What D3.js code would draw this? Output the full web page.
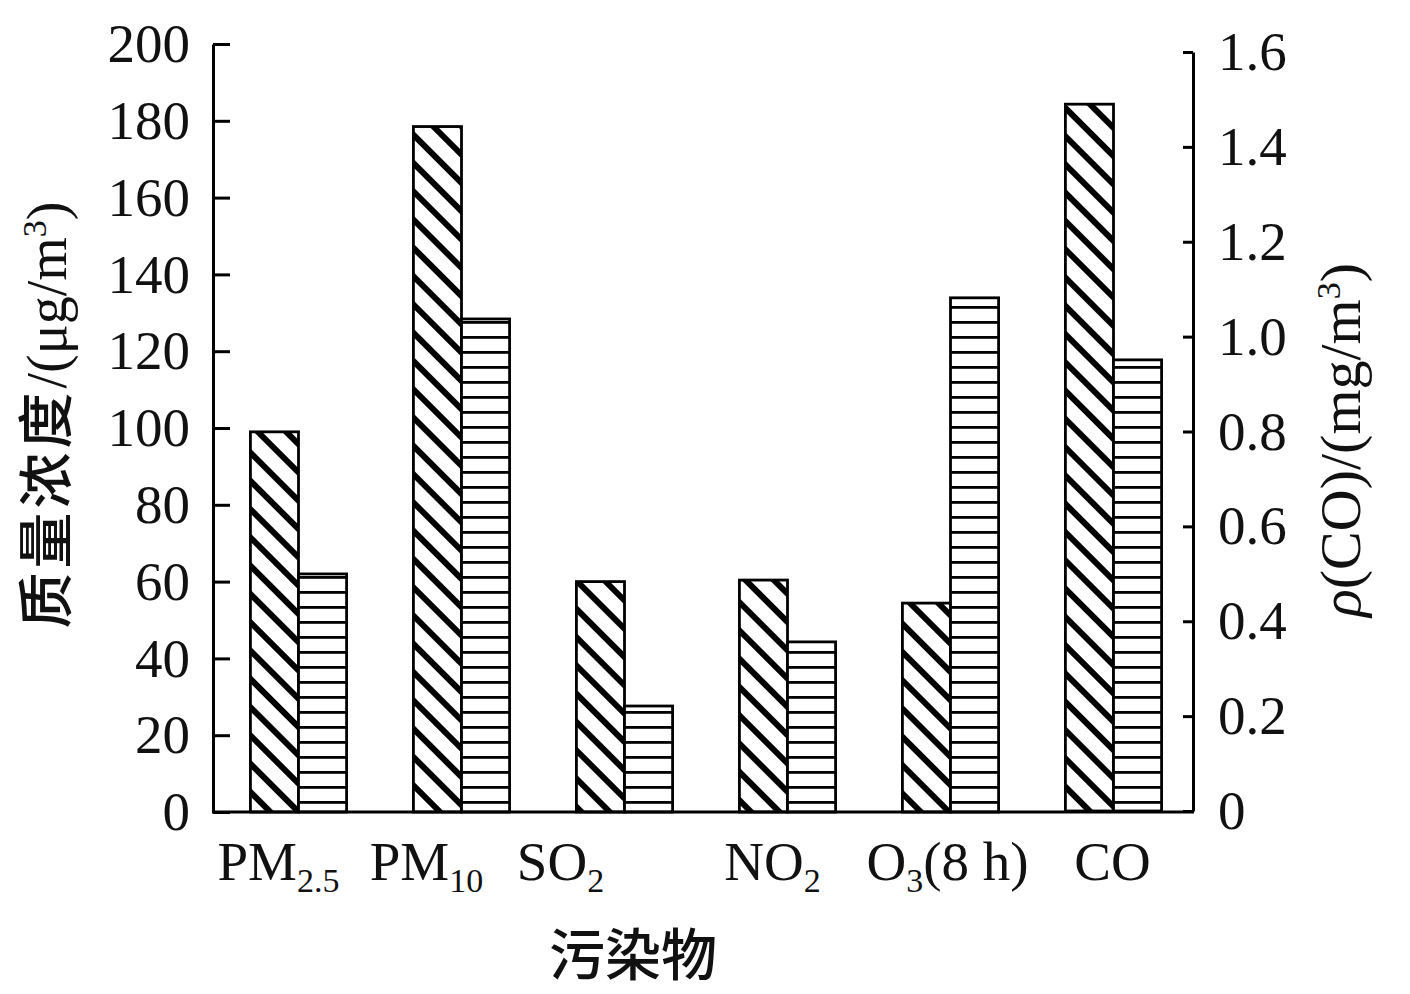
<!DOCTYPE html>
<html>
<head>
<meta charset="utf-8">
<script src="https://cdn.jsdelivr.net/npm/d3@7"></script>
<style>
body { margin: 0; background: #fff; }
text { font-family: "Liberation Serif", "Times New Roman", serif; fill: #111; }
.cjk { font-family: "Noto Sans CJK SC", sans-serif; font-weight: 500; }
</style>
</head>
<body>
<svg id="chart" width="1410" height="994"></svg>
<script>
// pollutants, main text / subscript / trailing text
const categories = ['PM2.5', 'PM10', 'SO2', 'NO2', 'O3', 'CO'];
const labelMain = ['PM', 'PM', 'SO', 'NO', 'O', 'CO'];
const labelSub = ['2.5', '10', '2', '2', '3', ''];
const labelTail = ['', '', '', '', '(8 h)', ''];
// CO is read on the right axis (mg/m3), the rest on the left (ug/m3)
const rightAxisCats = ['CO'];
const seriesDiag = [99, 178.5, 60, 60.4, 54.4, 1.49];
const seriesHoriz = [62, 128.4, 27.6, 44.3, 133.9, 0.951];
const leftTicks = [0, 20, 40, 60, 80, 100, 120, 140, 160, 180, 200];
const rightTicks = [0, 0.2, 0.4, 0.6, 0.8, 1.0, 1.2, 1.4, 1.6];
// labels in the original sit a little off their bar groups
const labelShift = [-20, -35, -64, -15, -3, -1];

const svg = d3.select('#chart');
const defs = svg.append('defs');

const diag = defs.append('pattern')
    .attr('id', 'diag')
    .attr('patternUnits', 'userSpaceOnUse')
    .attr('width', 20).attr('height', 20)
    .attr('patternTransform', 'rotate(45)');
diag.append('rect').attr('width', 20).attr('height', 20).attr('fill', '#fff');
diag.append('rect').attr('width', 20).attr('height', 6).attr('fill', '#000');

const horiz = defs.append('pattern')
    .attr('id', 'horiz')
    .attr('patternUnits', 'userSpaceOnUse')
    .attr('width', 10).attr('height', 15);
horiz.append('rect').attr('width', 10).attr('height', 15).attr('fill', '#fff');
horiz.append('rect').attr('y', 6).attr('width', 10).attr('height', 2.8).attr('fill', '#000');

const x0 = d3.scaleBand()
    .domain(categories)
    .range([217, 1195])
    .paddingInner(0.41)
    .paddingOuter(0.205);
const x1 = d3.scaleBand()
    .domain(['diag', 'horiz'])
    .range([0, x0.bandwidth()]);
const yL = d3.scaleLinear().domain([0, 200]).range([812, 44]);
const yR = d3.scaleLinear().domain([0, 1.6]).range([811, 52]);
const yFor = c => rightAxisCats.includes(c) ? yR : yL;

const bars = [];
categories.forEach((c, i) => {
    bars.push({ cat: c, key: 'diag', value: seriesDiag[i] });
    bars.push({ cat: c, key: 'horiz', value: seriesHoriz[i] });
});

svg.append('g')
    .selectAll('rect')
    .data(bars)
    .enter().append('rect')
    .attr('x', d => x0(d.cat) + x1(d.key))
    .attr('width', x1.bandwidth())
    .attr('y', d => yFor(d.cat)(d.value))
    .attr('height', d => yFor(d.cat)(0) - yFor(d.cat)(d.value))
    .attr('fill', d => `url(#${d.key})`)
    .attr('stroke', '#000')
    .attr('stroke-width', 2.8);

// axes
const axisL = svg.append('g')
    .attr('transform', 'translate(213,0)')
    .call(d3.axisLeft(yL).tickValues(leftTicks).tickSizeInner(-17).tickSizeOuter(0).tickPadding(23));
const axisR = svg.append('g')
    .attr('transform', 'translate(1193,0)')
    .call(d3.axisRight(yR).tickValues(rightTicks)
        .tickFormat(d => d === 0 ? '0' : d3.format('.1f')(d))
        .tickSizeInner(-10).tickSizeOuter(0).tickPadding(25));

[axisL, axisR].forEach(a => {
    a.select('.domain').attr('stroke', '#000').attr('stroke-width', 3);
    a.selectAll('.tick line').attr('stroke', '#000').attr('stroke-width', 3);
    a.selectAll('.tick text')
        .attr('fill', '#111')
        .style('font-family', '"Liberation Serif", serif')
        .style('font-size', '55px');
});

svg.append('line')
    .attr('x1', 212).attr('x2', 1194)
    .attr('y1', yL(0)).attr('y2', yL(0))
    .attr('stroke', '#000').attr('stroke-width', 3);

// category labels
const lab = svg.append('g')
    .selectAll('text')
    .data(categories)
    .enter().append('text')
    .attr('x', (d, i) => x0(d) + x0.bandwidth() / 2 + labelShift[i])
    .attr('y', 880)
    .attr('text-anchor', 'middle')
    .style('font-size', '55px');
lab.append('tspan').text((d, i) => labelMain[i]);
lab.append('tspan')
    .attr('dy', (d, i) => labelSub[i] ? 12 : 0)
    .style('font-size', '34px')
    .text((d, i) => labelSub[i]);
lab.append('tspan')
    .attr('dy', (d, i) => labelSub[i] ? -12 : 0)
    .text((d, i) => labelTail[i]);

// x title
svg.append('text')
    .attr('class', 'cjk')
    .attr('x', 633).attr('y', 975)
    .attr('text-anchor', 'middle')
    .style('font-size', '56px')
    .text('污染物');

// left title
const tl = svg.append('text')
    .attr('transform', 'translate(66,415) rotate(-90)')
    .attr('text-anchor', 'middle')
    .style('font-size', '56px');
tl.append('tspan').attr('class', 'cjk').style('font-size', '56px').style('letter-spacing', '4px').text('质量浓度');
tl.append('tspan').text('/(μg/m');
tl.append('tspan').attr('dy', -20).style('font-size', '34px').text('3');
tl.append('tspan').attr('dy', 20).text(')');

// right title
const tr = svg.append('text')
    .attr('transform', 'translate(1360,440) rotate(-90)')
    .attr('text-anchor', 'middle')
    .style('font-size', '58px');
tr.append('tspan').style('font-style', 'italic').text('ρ');
tr.append('tspan').text('(CO)/(mg/m');
tr.append('tspan').attr('dy', -20).style('font-size', '34px').text('3');
tr.append('tspan').attr('dy', 20).text(')');
</script>
</body>
</html>
